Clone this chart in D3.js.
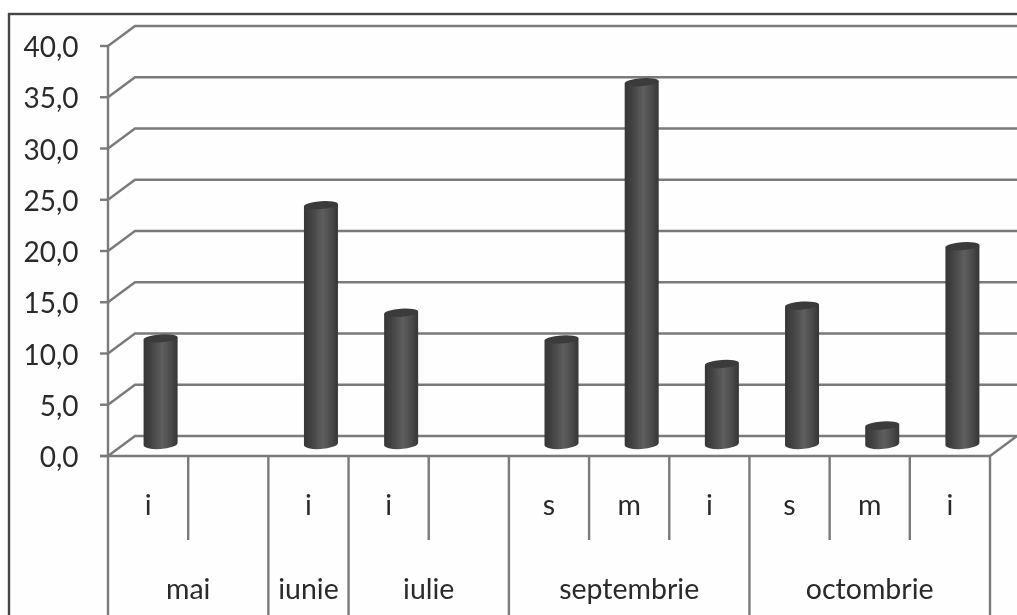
<!DOCTYPE html>
<html><head><meta charset="utf-8"><script src="https://d3js.org/d3.v7.min.js"></script>
<style>html,body{margin:0;background:#fff}svg{display:block}</style></head><body><svg id="c" width="1017" height="615"></svg>
<script>
const subLabels = ["i","","i","i","","s","m","i","s","m","i"];
const values = [10.5,null,23.5,13,null,10.4,35.5,8,13.7,2,19.5];
const months = [{name:"mai",span:2},{name:"iunie",span:1},{name:"iulie",span:2},{name:"septembrie",span:3},{name:"octombrie",span:3}];
const yTicks = [0,5,10,15,20,25,30,35,40];
const root = d3.select("#c");
const font = "Lato,'Open Sans',sans-serif", grid = "#7a7a7a", text = "#2a2a2a";
const y = d3.scaleLinear().domain([0,40]).range([456,46]);
const x = d3.scaleBand().domain(d3.range(subLabels.length)).range([108,990]);
const dx = 27, dy = -20, bw = 34, ry = 5;
const fmt = v => v.toFixed(1).replace(".",",");
const defs = root.append("defs");
const g = defs.append("linearGradient").attr("id","cyl");
[[0,"#363636"],[.2,"#414141"],[.55,"#5e5e5e"],[.8,"#4a4a4a"],[1,"#353535"]].forEach(([o,c])=>g.append("stop").attr("offset",o).attr("stop-color",c));
defs.append("filter").attr("id","soft").attr("x",0).attr("y",0).attr("filterUnits","userSpaceOnUse").attr("width",1017).attr("height",615)
  .append("feGaussianBlur").attr("stdDeviation",0.5);
const svg = root.append("g").attr("filter","url(#soft)");
svg.append("rect").attr("x",0).attr("y",0).attr("width",1017).attr("height",615).attr("fill","#fff");
svg.append("rect").attr("x",9).attr("y",14).attr("width",1100).attr("height",700).attr("fill","#fefefe").attr("stroke","#444").attr("stroke-width",2.4);
const line=(x1,y1,x2,y2,w=2.4)=>svg.append("line").attr("x1",x1).attr("y1",y1).attr("x2",x2).attr("y2",y2).attr("stroke",grid).attr("stroke-width",w);
yTicks.forEach(t=>{
  const p=y(t);
  svg.append("path").attr("d",d3.line()([[108,p],[108+dx,p+dy],[1017,p+dy]])).attr("fill","none").attr("stroke",grid).attr("stroke-width",2.4);
  line(100,p,108,p);
  svg.append("text").attr("x",78.5).attr("y",p+11).attr("text-anchor","end").attr("font-family",font).attr("font-size",28).attr("fill",text).text(fmt(t));
});
line(990,456,990+dx,456+dy);
line(108,46,108,615);
line(100,456,990,456);
subLabels.forEach((s,i)=>{
  const cx=x(i)+x.bandwidth()/2;
  if(s) svg.append("text").attr("x",cx).attr("y",515).attr("text-anchor","middle").attr("font-family",font).attr("font-size",28.5).attr("fill",text).text(s);
});
let idx=0;
months.forEach(m=>{
  const a=x(idx), b=x(idx+m.span-1)+x.bandwidth();
  for(let k=1;k<m.span;k++) line(x(idx+k),456,x(idx+k),540);
  line(b,456,b,615);
  svg.append("text").attr("x",(a+b)/2).attr("y",599).attr("text-anchor","middle").attr("font-family",font).attr("font-size",28.5).attr("fill",text).text(m.name);
  idx+=m.span;
});
values.forEach((v,i)=>{
  if(v==null) return;
  const cx=x(i)+x.bandwidth()/2+dx/2-1, l=cx-bw/2, r=cx+bw/2;
  const base=y(0)+dy/2, top=y(v)+dy/2;
  const tilt=-4;
  svg.append("path").attr("d",`M${l},${top+1.2} L${l},${base-1} A${bw/2},${ry} ${tilt} 0 0 ${r},${base-3} L${r},${top-1.2} Z`).attr("fill","url(#cyl)");
  svg.append("ellipse").attr("cx",cx).attr("cy",top).attr("rx",bw/2).attr("ry",ry-1).attr("transform",`rotate(${tilt} ${cx} ${top})`).attr("fill","#3a3a3a");
});
</script></body></html>
